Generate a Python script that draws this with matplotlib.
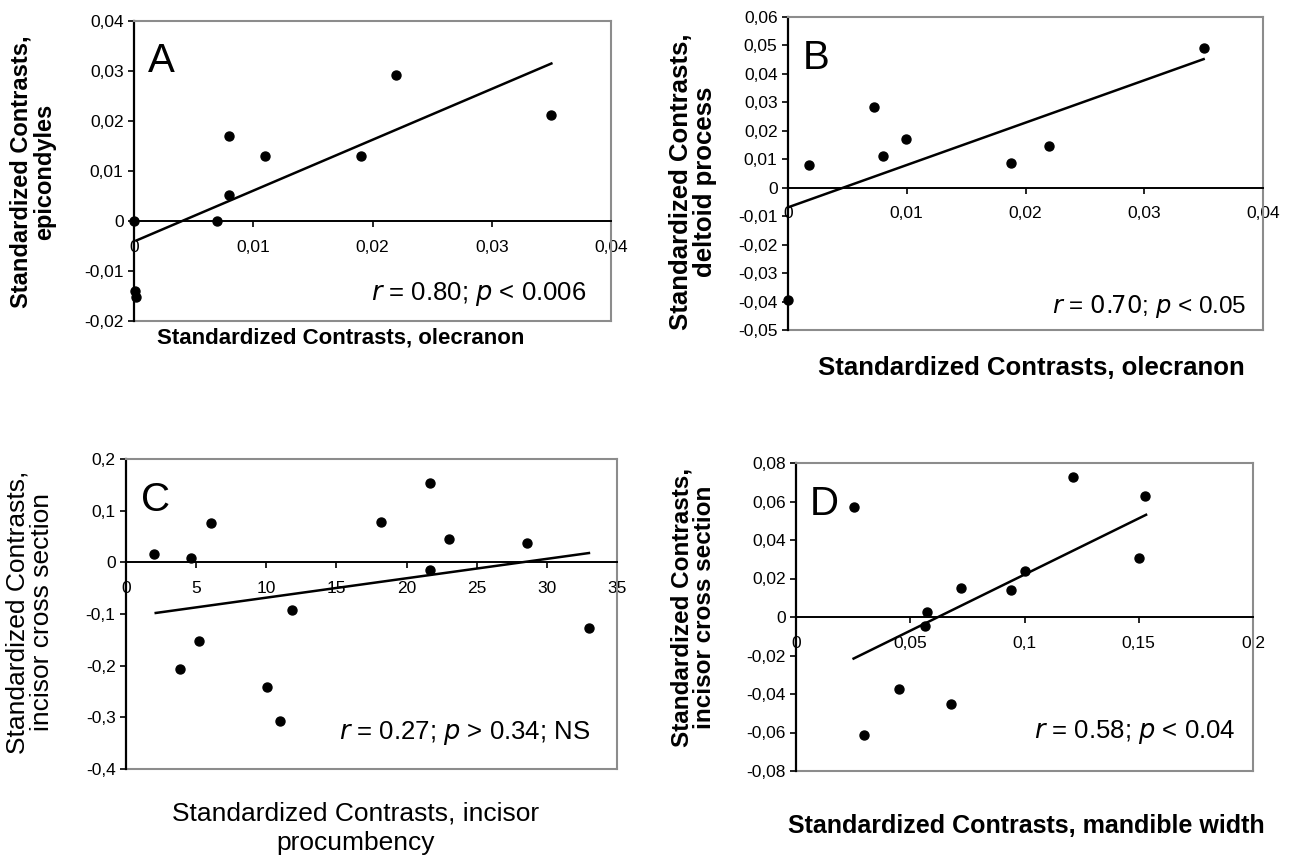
import matplotlib
matplotlib.use("Agg")
import matplotlib.pyplot as plt
from matplotlib.ticker import FuncFormatter, MultipleLocator
from matplotlib.lines import Line2D

plt.rcParams['font.family'] = ['Liberation Sans', 'DejaVu Sans']

# ---- Panel A: olecranon vs epicondyles
a_x = [0.0, 0.007, 0.008, 0.008, 0.011, 0.019, 0.022, 0.035, 0.0001, 0.0002]
a_y = [0.0, 0.0, 0.0053, 0.0171, 0.013, 0.013, 0.0293, 0.0213, -0.014, -0.0151]
a_fit_x = [0.0002, 0.035]
a_fit_y = [-0.0039, 0.0315]

# ---- Panel B: olecranon vs deltoid process
b_x = [0.0018, 0.0072, 0.008, 0.0099, 0.0188, 0.022, 0.035, 0.0]
b_y = [0.0081, 0.0284, 0.011, 0.0171, 0.0087, 0.0145, 0.0492, -0.0393]
b_fit_x = [0.0, 0.035]
b_fit_y = [-0.0069, 0.0452]

# ---- Panel C: incisor procumbency vs incisor cross section
c_x = [2.0, 4.66, 6.05, 3.83, 5.19, 10.06, 11.0, 11.83, 18.2, 21.7, 21.7,
       23.0, 28.6, 33.0]
c_y = [0.016, 0.008, 0.0755, -0.206, -0.152, -0.242, -0.308, -0.0915,
       0.0787, 0.153, -0.014, 0.0454, 0.0365, -0.128]
c_fit_x = [2.12, 33.0]
c_fit_y = [-0.098, 0.018]

# ---- Panel D: mandible width vs incisor cross section
d_x = [0.0252, 0.0296, 0.0452, 0.0563, 0.0575, 0.0679, 0.072, 0.0942,
       0.1002, 0.1214, 0.150, 0.1528]
d_y = [0.0574, -0.0612, -0.0372, -0.0045, 0.0024, -0.0452, 0.0152, 0.0142,
       0.024, 0.0727, 0.0306, 0.0626]
d_fit_x = [0.0252, 0.1532]
d_fit_y = [-0.0216, 0.0531]

W, H = 1291, 861
fig = plt.figure(figsize=(W / 100, H / 100), dpi=100)


def px_axes(left, right, top, bottom):
    # axes box given in pixel coordinates of the picture
    return fig.add_axes([left / W, 1 - bottom / H, (right - left) / W,
                         (bottom - top) / H])


def comma(v, pos):
    if abs(v) < 1e-12:
        return "0"
    return ("%g" % round(v, 6)).replace(".", ",")


def panel(ax, x, y, fx, fy, xlim, ylim, xstep, ystep, letter):
    ax.scatter(x, y, s=42, color="black", zorder=4, clip_on=False)
    ax.plot(fx, fy, color="black", lw=1.8, zorder=3)
    ax.set_xlim(*xlim)
    ax.set_ylim(*ylim)
    ax.xaxis.set_major_locator(MultipleLocator(xstep))
    ax.yaxis.set_major_locator(MultipleLocator(ystep))
    ax.xaxis.set_major_formatter(FuncFormatter(comma))
    ax.yaxis.set_major_formatter(FuncFormatter(comma))
    grey = "#8c8c8c"
    for side in ("top", "right"):
        ax.spines[side].set_color(grey)
        ax.spines[side].set_linewidth(1.5)
    ax.spines["left"].set_color("black")
    ax.spines["left"].set_linewidth(1.6)
    ax.spines["bottom"].set_position(("data", 0))
    ax.spines["bottom"].set_color("black")
    ax.spines["bottom"].set_linewidth(1.4)
    ax.add_line(Line2D([0, 1], [0, 0], transform=ax.transAxes, color=grey,
                       lw=1.5, clip_on=False))
    ax.tick_params(axis="both", direction="out", length=4.5, width=1.2,
                   labelsize=12.5, colors="black")
    ax.tick_params(axis="x", pad=9)
    ax.tick_params(axis="y", pad=3)
    for lab in ax.get_xticklabels() + ax.get_yticklabels():
        lab.set_fontfamily(["Liberation Sans Narrow", "Liberation Sans"])
    ax.text(0.03, 0.93, letter, transform=ax.transAxes, fontsize=29,
            va="top", ha="left")


axA = px_axes(134, 611, 21, 321)
panel(axA, a_x, a_y, a_fit_x, a_fit_y, (0, 0.04), (-0.02, 0.04), 0.01, 0.01, "A")
axB = px_axes(788, 1263, 17, 330)
panel(axB, b_x, b_y, b_fit_x, b_fit_y, (0, 0.04), (-0.05, 0.06), 0.01, 0.01, "B")
axC = px_axes(126, 617, 459, 769)
panel(axC, c_x, c_y, c_fit_x, c_fit_y, (0, 35), (-0.4, 0.2), 5, 0.1, "C")
axD = px_axes(796, 1253, 463, 771)
panel(axD, d_x, d_y, d_fit_x, d_fit_y, (0, 0.2), (-0.08, 0.08), 0.05, 0.02, "D")

# ---- statistics inside each panel
stat = dict(ha="right", va="center")
axA.text(0.948, 0.09, r"$\it{r}$ = 0.80; $\it{p}$ < 0.006", transform=axA.transAxes,
         fontsize=18.5, **stat)
axB.text(0.965, 0.075, r"$\it{r}$ = $\it{0.70}$; $\it{p}$ < 0.05", transform=axB.transAxes,
         fontsize=17.5, **stat)
axC.text(0.945, 0.115, r"$\it{r}$ = 0.27; $\it{p}$ > 0.34; NS", transform=axC.transAxes,
         fontsize=18.5, **stat)
axD.text(0.962, 0.125, r"$\it{r}$ = 0.58; $\it{p}$ < 0.04", transform=axD.transAxes,
         fontsize=18.5, **stat)

# ---- axis titles
fig.text(33 / W, 1 - 172 / H, "Standardized Contrasts,\nepicondyles", rotation=90,
         ha="center", va="center", fontsize=17, fontweight="bold", linespacing=1.05)
fig.text(341 / W, 1 - 338 / H, "Standardized Contrasts, olecranon",
         ha="center", va="center", fontsize=16, fontweight="bold")
fig.text(693 / W, 1 - 182 / H, "Standardized Contrasts,\ndeltoid process", rotation=90,
         ha="center", va="center", fontsize=18.5, fontweight="bold", linespacing=1.0)
fig.text(1031 / W, 1 - 368 / H, "Standardized Contrasts, olecranon",
         ha="center", va="center", fontsize=18.5, fontweight="bold")
fig.text(30 / W, 1 - 612 / H, "Standardized Contrasts,\nincisor cross section", rotation=90,
         ha="center", va="center", fontsize=19, linespacing=1.0)
fig.text(356 / W, 1 - 828 / H, "Standardized Contrasts, incisor\nprocumbency",
         ha="center", va="center", fontsize=19, linespacing=1.3)
fig.text(693 / W, 1 - 607 / H, "Standardized Contrasts,\nincisor cross section", rotation=90,
         ha="center", va="center", fontsize=17.5, fontweight="bold", linespacing=1.0)
fig.text(1026 / W, 1 - 826 / H, "Standardized Contrasts, mandible width",
         ha="center", va="center", fontsize=18, fontweight="bold")

fig.savefig("out.png", dpi=100)
